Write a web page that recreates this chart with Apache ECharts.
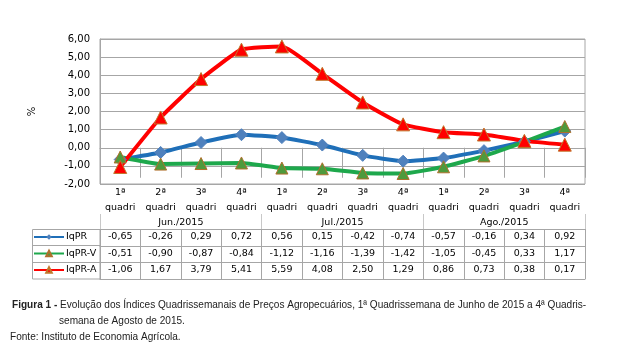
<!DOCTYPE html>
<html>
<head>
<meta charset="utf-8">
<script src="https://cdn.jsdelivr.net/npm/echarts@6/dist/echarts.min.js"></script>
<style>
html,body{margin:0;padding:0;background:#fff;}
#c{width:628px;height:357px;}
</style>
</head>
<body>
<div id="c"></div>
<script>
const categories = ['1ª\nquadri','2ª\nquadri','3ª\nquadri','4ª\nquadri',
                    '1ª\nquadri','2ª\nquadri','3ª\nquadri','4ª\nquadri',
                    '1ª\nquadri','2ª\nquadri','3ª\nquadri','4ª\nquadri'];
const months = ['Jun./2015','Jul./2015','Ago./2015'];
const seriesNames = ['IqPR','IqPR-V','IqPR-A'];
const iqpr  = [-0.65,-0.26,0.29,0.72,0.56,0.15,-0.42,-0.74,-0.57,-0.16,0.34,0.92];
const iqprV = [-0.51,-0.90,-0.87,-0.84,-1.12,-1.16,-1.39,-1.42,-1.05,-0.45,0.33,1.17];
const iqprA = [-1.06,1.67,3.79,5.41,5.59,4.08,2.50,1.29,0.86,0.73,0.38,0.17];
const yMin = -2, yMax = 6, yStep = 1;
const yAxisName = '%';
const captionTitle = 'Figura 1 -';
const captionLine1 = 'Evolução dos Índices Quadrissemanais de Preços Agropecuários, 1ª Quadrissemana de Junho de 2015 a 4ª Quadris-';
const captionLine2 = 'semana de Agosto de 2015.';
const sourceLine = 'Fonte: Instituto de Economia Agrícola.';

const fmt = v => v.toFixed(2).replace('.', ',');
const GRAY = '#a6a6a6';
const FONT = 'DejaVu Sans';
const CAPFONT = 'Liberation Sans';
const CAPSIZE = 11;
const CAPSCALE = 0.915;

function rowAxis(values, offset) {
  return {
    type: 'category', gridIndex: 0, position: 'bottom', offset: offset,
    data: values.map(fmt),
    axisLine: {show: true, lineStyle: {color: GRAY, width: 1}},
    axisTick: {show: true, interval: 0, length: 17, lineStyle: {color: GRAY}},
    axisLabel: {interval: 0, margin: 3, fontSize: 9.5, fontFamily: FONT, color: '#000'},
    splitLine: {show: false}
  };
}

function capText(x, y, text, rich) {
  return {
    type: 'text', x: x, y: y, scaleX: CAPSCALE, scaleY: 1, silent: true,
    style: {text: text, x: 0, y: 0, verticalAlign: 'middle', align: 'left',
            fontSize: CAPSIZE, fontFamily: CAPFONT, fill: '#222', rich: rich || {}}
  };
}

const chart = echarts.init(document.getElementById('c'), null, {renderer: 'canvas'});
chart.setOption({
  animation: false,
  backgroundColor: '#fff',
  grid: {left: 100, right: 43, top: 39, bottom: 173, show: true, borderColor: GRAY, borderWidth: 1, backgroundColor: '#fff'},
  legend: {
    orient: 'vertical', left: 33, top: 232, itemWidth: 30, itemHeight: 7, itemGap: 6.5,
    data: seriesNames,
    textStyle: {fontSize: 9.5, fontFamily: FONT, color: '#000', padding: [0,0,0,-3]},
    padding: 0
  },
  xAxis: [
    {
      type: 'category', position: 'bottom', data: categories,
      axisLine: {show: true, lineStyle: {color: GRAY}},
      axisTick: {show: true, interval: 0, length: 30, lineStyle: {color: GRAY}},
      axisLabel: {interval: 0, margin: 1, fontSize: 9.5, lineHeight: 15, fontFamily: FONT, color: '#000'}
    },
    {
      type: 'category', position: 'bottom', offset: 30, data: months,
      axisLine: {show: false},
      axisTick: {show: true, interval: 0, length: 15, lineStyle: {color: '#c8c8c8'}},
      axisLabel: {interval: 0, margin: 4, fontSize: 9.5, fontFamily: FONT, color: '#000'}
    },
    rowAxis(iqpr, 45),
    rowAxis(iqprV, 62),
    rowAxis(iqprA, 78),
    {
      type: 'category', position: 'bottom', offset: 95, data: categories.map(() => ''),
      axisLine: {show: true, lineStyle: {color: GRAY}},
      axisTick: {show: false}, axisLabel: {show: false}
    }
  ],
  yAxis: {
    type: 'value', min: yMin, max: yMax, interval: yStep,
    name: yAxisName, nameLocation: 'middle', nameRotate: 90, nameGap: 63,
    nameTextStyle: {fontSize: 10, fontFamily: FONT, color: '#000'},
    axisLine: {show: true, lineStyle: {color: GRAY}},
    axisTick: {show: false},
    axisLabel: {formatter: v => fmt(v), fontSize: 10, fontFamily: FONT, color: '#000', margin: 10},
    splitLine: {lineStyle: {color: GRAY, width: 1}}
  },
  series: [
    {
      name: seriesNames[0], type: 'line', data: iqpr, smooth: 0.15,
      lineStyle: {color: '#1f6fb8', width: 4},
      itemStyle: {color: '#4f81bd', borderColor: '#4f81bd'},
      symbol: 'diamond', symbolSize: 12, showSymbol: true
    },
    {
      name: seriesNames[1], type: 'line', data: iqprV, smooth: 0.15,
      lineStyle: {color: '#1ea84c', width: 4},
      itemStyle: {color: '#4e9a3c', borderColor: '#b0702c', borderWidth: 1},
      symbol: 'triangle', symbolSize: 12
    },
    {
      name: seriesNames[2], type: 'line', data: iqprA, smooth: 0.15,
      lineStyle: {color: '#ff0000', width: 4},
      itemStyle: {color: '#ff0000', borderColor: '#c0782c', borderWidth: 1},
      symbol: 'triangle', symbolSize: 13
    }
  ],
  graphic: [
    {type: 'rect', shape: {x: 32.5, y: 229.5, width: 67.5, height: 49.5}, style: {fill: 'none', stroke: GRAY, lineWidth: 1}, silent: true},
    {type: 'line', shape: {x1: 32.5, y1: 245.5, x2: 100, y2: 245.5}, style: {stroke: GRAY, lineWidth: 1}, silent: true},
    {type: 'line', shape: {x1: 32.5, y1: 262.5, x2: 100, y2: 262.5}, style: {stroke: GRAY, lineWidth: 1}, silent: true},
    capText(12, 305, '{b|' + captionTitle + '} ' + captionLine1,
            {b: {fontWeight: 'bold', fontSize: CAPSIZE, fontFamily: CAPFONT, fill: '#222'}}),
    capText(59, 321, captionLine2),
    capText(10, 337, sourceLine)
  ]
});
</script>
</body>
</html>
